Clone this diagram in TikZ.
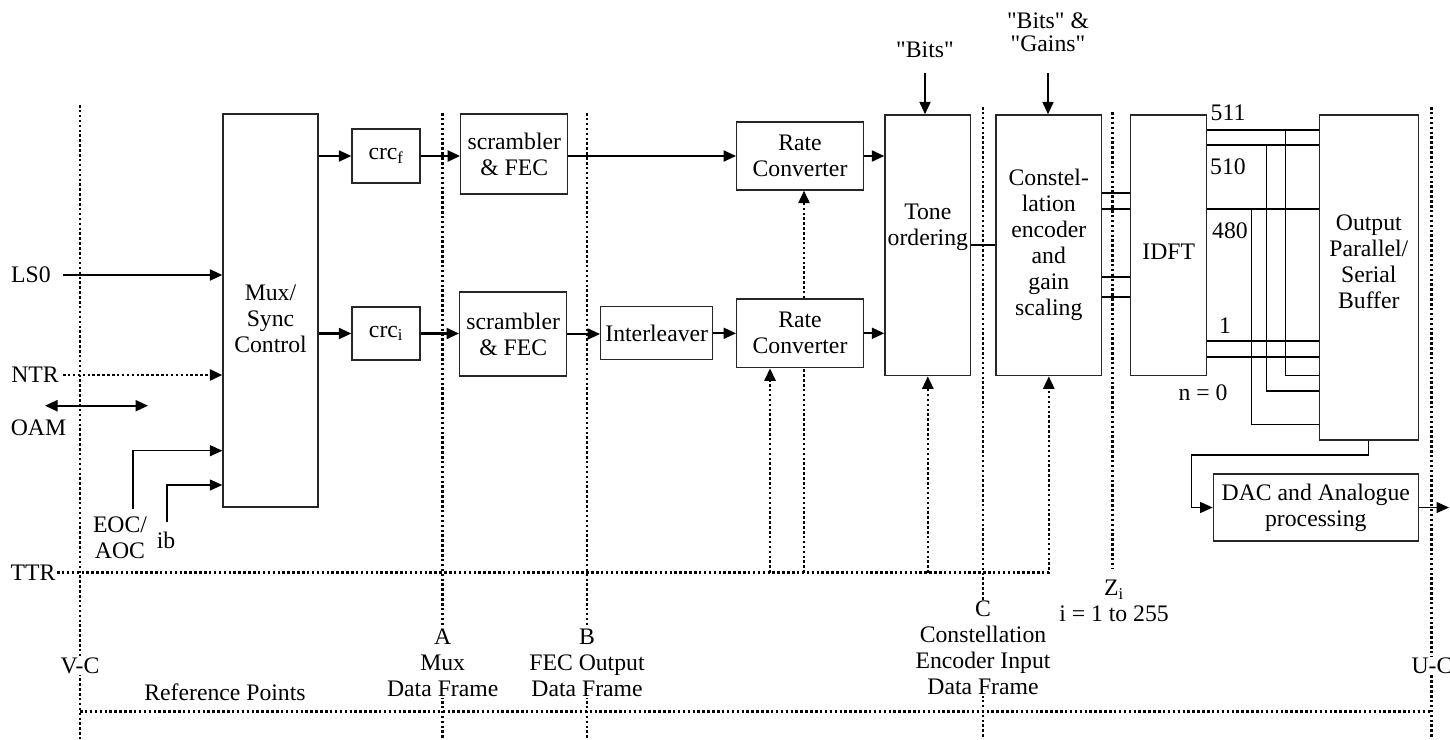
\documentclass[tikz,border=0pt]{standalone}
\usepackage{fontspec}
\setmainfont{Liberation Serif}[Ligatures=TeXOff]
\usetikzlibrary{arrows.meta,calc}
\begin{document}
\begin{tikzpicture}[x=1pt,y=-1pt, font=\fontsize{23.7}{26}\selectfont,
 blk/.style={draw=black!85, line width=1.3pt, inner sep=0pt, align=center},
 arr/.style={line width=2.1pt, -{Triangle[length=12.5pt,width=11pt]}},
 dblarr/.style={line width=2.1pt, {Triangle[length=12.5pt,width=11pt]}-{Triangle[length=12.5pt,width=11pt]}},
 ln/.style={line width=2.1pt},
 tln/.style={line width=1.2pt},
 tarr/.style={line width=1.2pt, -{Triangle[length=12.5pt,width=11pt]}},
 dl/.style={line width=2.6pt, dash pattern=on 2.5pt off 2.4pt},
 darr/.style={dl, -{Triangle[length=12.5pt,width=11pt]}},
 lbl/.style={inner sep=1pt, align=center},
 wlbl/.style={lbl, fill=white}]
\useasboundingbox (0,0) rectangle (1450,739);

% reference lines
\coordinate (vct) at (80,105);   \coordinate (vcb) at (80,739);
\coordinate (at) at (442.7,113); \coordinate (ab) at (442.7,739);
\coordinate (bt) at (587,113);   \coordinate (bb) at (587,739);
\coordinate (ct) at (983,107);   \coordinate (cb) at (983,739);
\coordinate (zt) at (1112.7,112); \coordinate (zb) at (1112.7,568);
\coordinate (ut) at (1431.7,107); \coordinate (ub) at (1431.7,739);
\coordinate (rl) at (80,711.7);  \coordinate (rr) at (1431.7,711.7);
\draw[dl] (vct) -- (vcb);
\draw[dl] (at) -- (ab);
\draw[dl] (bt) -- (bb);
\draw[dl] (ct) -- (cb);
\draw[dl] (zt) -- (zb);
\draw[dl] (ut) -- (ub);
\draw[dl] (rl) -- (rr);

% blocks
\node[blk, minimum width=95pt, minimum height=393pt] (mux) at (270.5,310.5) {};
\node[lbl] (muxt) at (270.5,319) {Mux/\\Sync\\Control};
\node[blk, minimum width=68pt, minimum height=54pt] (crcf) at (386,156) {crc\textsubscript{f}};
\node[blk, minimum width=68pt, minimum height=53pt] (crci) at (386,333.5) {crc\textsubscript{i}};
\node[blk, minimum width=107pt, minimum height=80pt] (scrf) at (514.3,154) {scrambler\\\& FEC};
\node[blk, minimum width=107pt, minimum height=84pt] (scri) at (513.2,334) {scrambler\\\& FEC};
\node[blk, minimum width=112pt, minimum height=53pt] (intl) at (656.7,333.3) {Interleaver};
\node[blk, minimum width=126.6pt, minimum height=68pt] (rcf) at (800,156) {Rate\\Converter};
\node[blk, minimum width=126.6pt, minimum height=68.7pt] (rci) at (800,333.3) {Rate\\Converter};
\node[blk, minimum width=85.7pt, minimum height=260.7pt] (tone) at (927.8,245.3) {};
\node[lbl] (tonet) at (927.8,227) {Tone\\ordering};
\node[blk, minimum width=105.7pt, minimum height=260.7pt] (cons) at (1048.8,245.3) {Constel-\\lation\\encoder\\and\\gain\\scaling};
\node[blk, minimum width=76pt, minimum height=260.7pt] (idft) at (1168.7,245.3) {};
\node[lbl] (idftt) at (1168.7,252) {IDFT};
\node[blk, minimum width=99pt, minimum height=325pt] (outb) at (1368.8,277.5) {};
\node[lbl] (outbt) at (1368.8,262) {Output\\Parallel/\\Serial\\Buffer};
\node[blk, minimum width=205pt, minimum height=67pt] (dac) at (1315.8,507.5) {DAC and Analogue\\processing};

% main data path
\draw[arr] (mux.east |- crcf) -- (crcf.west);
\draw[arr] (crcf.east) -- (crcf.east -| scrf.west);
\draw[arr] (scrf.east |- rcf) -- (rcf.west);
\draw[arr] (rcf.east) -- (rcf.east -| tone.west);
\draw[arr] (mux.east |- crci) -- (crci.west);
\draw[arr] (crci.east) -- (crci.east -| scri.west);
\draw[arr] (scri.east) -- (scri.east -| intl.west);
\draw[arr] (intl.east) -- (intl.east -| rci.west);
\draw[arr] (rci.east) -- (rci.east -| tone.west);
\draw[ln] (tone.east) -- (cons.west);
\foreach \yy in {193.3,209.3,276.7,296.7} \draw[ln] (cons.east |- 0,\yy) -- (idft.west |- 0,\yy);
\foreach \yy in {130,145,209.3,341,356.7} \draw[ln] (idft.east |- 0,\yy) -- (outb.west |- 0,\yy);
\coordinate (v1) at (1285.3,130);
\coordinate (v2) at (1266.7,145);
\coordinate (v3) at (1251.7,209.3);
\draw[tln] (v1) |- (outb.west |- 0,375.7);
\draw[tln] (v2) |- (outb.west |- 0,391);
\draw[tln] (v3) |- (outb.west |- 0,424.3);
\coordinate (dacb) at (1191.7,455);
\draw[tarr] (outb.south) |- (dacb) |- (dac.west);
\coordinate (dout) at (1449,507.5);
\draw[tarr] (dac.east) -- (dout);

% inputs
\node[lbl] (ls0) at (31,275) {LS0};
\node[lbl] (ntr) at (35,375) {NTR};
\node[lbl] (oam) at (38.5,428) {OAM};
\node[lbl] (eoc) at (120,538) {EOC/\\AOC};
\node[lbl] (ib) at (166,540) {ib};
\node[lbl] (ttr) at (33,573) {TTR};
\coordinate (ls0s) at (63,275);
\draw[arr] (ls0s) -- (ls0s -| mux.west);
\coordinate (ntrs) at (63,375);
\draw[darr] (ntrs) -- (ntrs -| mux.west);
\coordinate (oaml) at (45,405.7); \coordinate (oamr) at (148,405.7);
\draw[dblarr] (oaml) -- (oamr);
\coordinate (eocs) at (133,509); \coordinate (eocy) at (0,450.7);
\draw[tarr] (eocs) |- (eocy -| mux.west);
\coordinate (ibs) at (167,522); \coordinate (iby) at (0,485);
\draw[tarr] (ibs) |- (iby -| mux.west);

% TTR timing
\coordinate (ttrs) at (57,572.7);
\coordinate (rcin) at ($(rci.south)+(-30,0)$);
\coordinate (rcup) at ($(rci.south)+(4,0)$);
\draw[darr] (ttrs) -- (cons.south |- ttrs) -- (cons.south);
\draw[darr] (rcin |- ttrs) -- (rcin);
\draw[dl] (rcup |- ttrs) -- (rcup);
\draw[darr] (rcup |- rci.north) -- (rcup |- rcf.south);
\draw[darr] (tone.south |- ttrs) -- (tone.south);

% top controls
\node[lbl] (bits) at (925,50) {"Bits"};
\node[lbl, font=\fontsize{23.7}{23}\selectfont] (bg) at (1048,32) {"Bits" \&\\"Gains"};
\coordinate (bitsa) at (925,73);
\draw[arr] (bitsa) -- (bitsa |- tone.north);
\coordinate (bga) at (1048,73);
\draw[arr] (bga) -- (bga |- cons.north);

% IDFT output indices
\node[lbl] (n511) at (1228,113) {511};
\node[lbl] (n510) at (1228,166.7) {510};
\node[lbl] (n480) at (1230,231) {480};
\node[lbl] (n1) at (1225,326) {1};
\node[lbl] (n0) at (1203,393) {n = 0};

% reference point labels
\node[wlbl] (vc) at (80,666) {V-C};
\node[wlbl] (uc) at (1432,666) {U-C};
\node[wlbl] (alb) at (442.7,663) {A\\Mux\\Data Frame};
\node[wlbl] (blb) at (587,663) {B\\FEC Output\\Data Frame};
\node[wlbl] (clb) at (983,648) {C\\Constellation\\Encoder Input\\Data Frame};
\node[lbl] (zlb) at (1114,601) {Z\textsubscript{i}\\i = 1 to 255};
\node[lbl] (refp) at (225,692) {Reference Points};
\end{tikzpicture}
\end{document}
